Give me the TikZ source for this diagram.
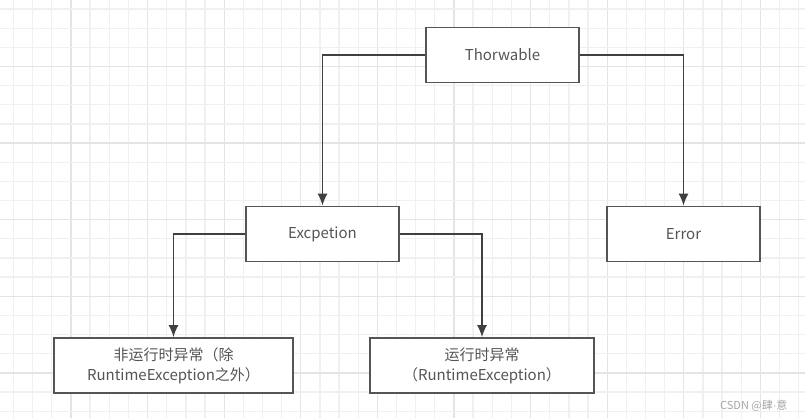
\documentclass[tikz,border=0pt]{standalone}
\usepackage{fontspec}
\setmainfont{Noto Sans CJK SC}
\newfontfamily\dotfont{Liberation Sans}
\usetikzlibrary{arrows.meta}

\definecolor{gridlight}{HTML}{F0F0F0}
\definecolor{griddark}{HTML}{E4E4E4}
\definecolor{boxline}{HTML}{555555}
\definecolor{linegrey}{HTML}{404040}
\definecolor{textgrey}{HTML}{555555}

\tikzset{
  box/.style={draw=boxline, line width=1.8pt, fill=white, minimum width=153pt,
    minimum height=55pt, text=textgrey, align=center,
    font=\fontsize{15}{20}\selectfont},
  conn/.style={draw=linegrey, line width=1.4pt, -{Latex[length=12pt,width=10pt]}}
}

\begin{document}
\begin{tikzpicture}[x=1pt,y=-1pt]
        \useasboundingbox (0,0) rectangle (805,418);
        \fill[white] (0,0) rectangle (805,418);

        % grid
        \foreach \i in {0,...,41} {
          \pgfmathtruncatemacro{\m}{mod(\i,4)}
          \ifnum\m=3 \def\gc{griddark}\else\def\gc{gridlight}\fi
          \draw[\gc, line width=1.3pt] (13.5+\i*19.15,0) -- (13.5+\i*19.15,418);
        }
        \foreach \j in {0,...,21} {
          \pgfmathtruncatemacro{\m}{mod(\j,4)}
          \ifnum\m=3 \def\gc{griddark}\else\def\gc{gridlight}\fi
          \draw[\gc, line width=1.3pt] (0,9+\j*19.15) -- (805,9+\j*19.15);
        }

        \node[box] (thr) at (502.5,55) {Thorwable};
        \node[box] (exc) at (322.5,234) {Excpetion};
        \node[box] (err) at (683.5,234) {Error};
        \node[box, minimum width=239pt] (nonrt) at (173.5,365.5) {非运行时异常（除\\RuntimeException之外）};
        \node[box, minimum width=224pt] (rt) at (482,365.5) {运行时异常\\（RuntimeException）};

        \draw[conn] (thr.west) -| (exc.north);
        \draw[conn] (thr.east) -| (err.north);
        \draw[conn] (exc.west) -| (nonrt.north);
        \draw[conn] (exc.east) -| (rt.north);

        \node[text=gray!70, font=\fontsize{11}{13}\selectfont, anchor=south east] (mark) at (791,415) {CSDN @肆{\dotfont·}意};
      \end{tikzpicture}
\end{document}
